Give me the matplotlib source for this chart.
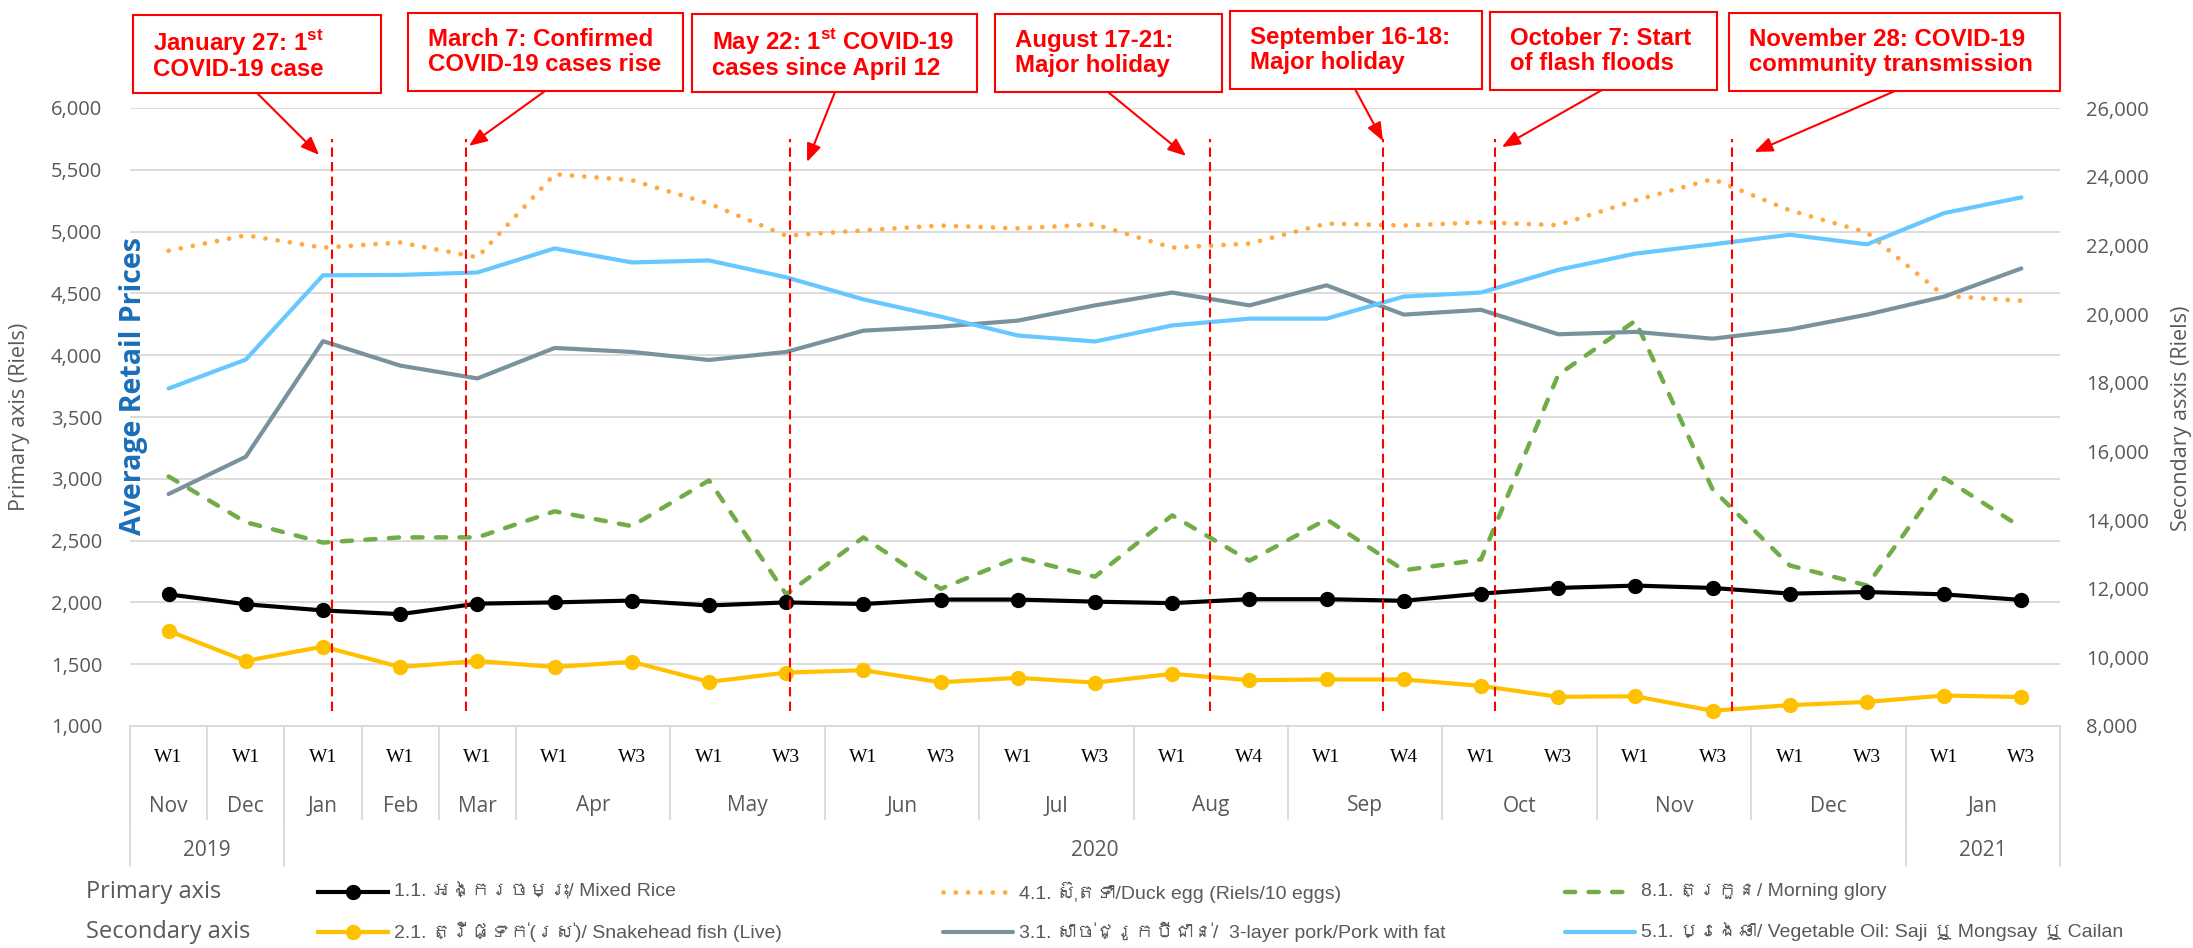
import matplotlib
matplotlib.use('Agg')
import matplotlib.pyplot as plt
import matplotlib.patches as patches
import matplotlib.transforms as mtransforms
from matplotlib import font_manager
from matplotlib.ft2font import FT2Font
from matplotlib.lines import Line2D
from matplotlib.ticker import FuncFormatter

# x axis: one category per weekly observation, grouped by month and year
weeks = ['W1', 'W1', 'W1', 'W1', 'W1', 'W1', 'W3', 'W1', 'W3', 'W1', 'W3', 'W1', 'W3',
         'W1', 'W4', 'W1', 'W4', 'W1', 'W3', 'W1', 'W3', 'W1', 'W3', 'W1', 'W3']
months = ['Nov', 'Dec', 'Jan', 'Feb', 'Mar', 'Apr', 'May', 'Jun', 'Jul', 'Aug', 'Sep', 'Oct', 'Nov', 'Dec', 'Jan']
month_weeks = [1, 1, 1, 1, 1, 2, 2, 2, 2, 2, 2, 2, 2, 2, 2]
years = ['2019', '2020', '2021']
year_weeks = [2, 21, 2]

# primary axis series (Riels)
mixed_rice = [2065, 1985, 1935, 1905, 1990, 2000, 2015, 1975, 2000, 1987, 2023, 2023, 2006,
              1994, 2026, 2026, 2013, 2071, 2117, 2136, 2117, 2071, 2084, 2065, 2020]
duck_egg = [4845, 4970, 4870, 4912, 4792, 5464, 5416, 5227, 4967, 5010, 5049, 5026, 5058,
            4870, 4903, 5065, 5049, 5075, 5052, 5253, 5425, 5172, 4993, 4480, 4441]
morning_glory = [3019, 2649, 2484, 2526, 2526, 2737, 2617, 2987, 2065, 2526, 2110, 2364, 2208,
                 2704, 2337, 2672, 2260, 2347, 3841, 4279, 2915, 2299, 2137, 3006, 2607]

# secondary axis series (Riels)
snakehead = [10770, 9894, 10314, 9718, 9894, 9718, 9870, 9286, 9555, 9625, 9274, 9403, 9263,
             9520, 9333, 9356, 9356, 9169, 8850, 8865, 8444, 8608, 8701, 8888, 8842]
pork = [14756, 15843, 19210, 18497, 18123, 19011, 18895, 18661, 18895, 19515, 19632, 19807, 20251,
        20625, 20251, 20836, 19982, 20122, 19410, 19480, 19281, 19550, 19982, 20508, 21327]
veg_oil = [17830, 18672, 21127, 21138, 21209, 21910, 21502, 21560, 21069, 20426, 19924, 19374, 19199,
           19667, 19865, 19865, 20508, 20625, 21285, 21759, 22028, 22309, 22028, 22940, 23396]

# events (position in category units) and their call-out text
event_pos = [2.12, 3.85, 8.05, 13.49, 15.73, 17.18, 20.25]
event_labels = [
    'January 27: 1$^{\\mathrm{st}}$\nCOVID-19 case',
    'March 7: Confirmed\nCOVID-19 cases rise',
    'May 22: 1$^{\\mathrm{st}}$ COVID-19\ncases since April 12',
    'August 17-21:\nMajor holiday',
    'September 16-18:\nMajor holiday',
    'October 7: Start\nof flash floods',
    'November 28: COVID-19\ncommunity transmission',
]
arrow_tips = [(1.95, 5620), (3.89, 5693), (8.27, 5563), (13.18, 5612), (15.73, 5733), (17.27, 5684), (20.54, 5644)]

legend_labels = [
    ['1.1. អង្ករចម្រុះ/ Mixed Rice', '4.1. ស៊ុតទា/Duck egg (Riels/10 eggs)', '8.1. ត្រកួន/ Morning glory'],
    ['2.1. ត្រីផ្ទក់(រស់)/ Snakehead fish (Live)', '3.1. សាច់ជ្រូកបីជាន់/  3-layer pork/Pork with fat',
     '5.1. ប្រេងឆា/ Vegetable Oil: Saji ឬ Mongsay ឬ Cailan'],
]

# ---- fonts ----
def find_khmer_font():
    for f in font_manager.fontManager.ttflist:
        try:
            if 0x1780 in FT2Font(f.fname).get_charmap():
                return f.name
        except Exception:
            pass
    return None

khmer = find_khmer_font()
legend_family = ['Liberation Sans'] + ([khmer] if khmer else []) + ['DejaVu Sans']

installed = {f.name for f in font_manager.fontManager.ttflist}
if 'Liberation Sans Narrow' in installed:
    callout_font, callout_size = 'Liberation Sans Narrow', 20.5
else:
    callout_font, callout_size = 'Liberation Sans', 17.3

plt.rcParams['font.family'] = ['Open Sans', 'DejaVu Sans']
plt.rcParams['mathtext.fontset'] = 'custom'
plt.rcParams['mathtext.rm'] = callout_font + ':bold'
plt.rcParams['mathtext.bf'] = callout_font + ':bold'

W, H = 2193, 948
def fx(p):
    return p / W
def fy(p):
    return 1 - p / H

grey_text = '#595959'
grid_col = '#D9D9D9'

styles = {
    'rice': dict(color='black', lw=3, marker='o', ms=10),
    'egg': dict(color='#FFA940', lw=3.4, linestyle=(0, (0.01, 2.6)), dash_capstyle='round'),
    'glory': dict(color='#70AD47', lw=3.2, linestyle=(0, (2.3, 3.0)), dash_capstyle='round'),
    'fish': dict(color='#FFC000', lw=3, marker='o', ms=10),
    'pork': dict(color='#7A929E', lw=3, solid_capstyle='round'),
    'oil': dict(color='#66C8FF', lw=3, solid_capstyle='round'),
}

fig = plt.figure(figsize=(W / 100, H / 100), dpi=100)
ax = fig.add_axes([fx(130), fy(726), fx(2060) - fx(130), fy(108) - fy(726)])
ax2 = ax.twinx()

x = list(range(len(weeks)))
ax.plot(x, mixed_rice, **styles['rice'], zorder=3)
ax.plot(x, duck_egg, **styles['egg'])
ax.plot(x, morning_glory, **styles['glory'])
ax2.plot(x, snakehead, **styles['fish'], zorder=3)
ax2.plot(x, pork, **styles['pork'])
ax2.plot(x, veg_oil, **styles['oil'])

# axes styling
ax.set_ylim(1000, 6000)
ax.set_yticks(range(1000, 6001, 500))
ax2.set_ylim(8000, 26000)
ax2.set_yticks(range(8000, 26001, 2000))
ax.set_xticks([])
fmt = FuncFormatter(lambda v, p: f'{v:,.0f}')
ax.yaxis.set_major_formatter(fmt)
ax2.yaxis.set_major_formatter(fmt)
ax.tick_params(axis='y', length=0, pad=20, labelsize=14.5, labelcolor=grey_text)
ax2.tick_params(axis='y', length=0, pad=19, labelsize=14.5, labelcolor=grey_text)
ax.yaxis.grid(True, color=grid_col, lw=1.3)
ax.set_axisbelow(True)
for a in (ax, ax2):
    for s in ('top', 'left', 'right'):
        a.spines[s].set_visible(False)
ax2.spines['bottom'].set_visible(False)
ax.spines['bottom'].set_color(grid_col)
ax.spines['bottom'].set_linewidth(1.3)

# multi-level category axis
trans = mtransforms.blended_transform_factory(ax.transData, fig.transFigure)
for i, w in enumerate(weeks):
    ax.text(i, fy(758), w, transform=trans, ha='center', va='center',
            family='Liberation Serif', fontsize=14, clip_on=False)
start = 0
for m, n in zip(months, month_weeks):
    ax.text(start + n / 2 - 0.5, fy(806), m, transform=trans, ha='center', va='center',
            fontsize=15, color=grey_text, clip_on=False)
    ax.add_line(Line2D([start - 0.5] * 2, [fy(726), fy(819)], transform=trans,
                       color=grid_col, lw=1.3, clip_on=False))
    start += n
start = 0
for yr, n in zip(years, year_weeks):
    ax.text(start + n / 2 - 0.5, fy(850), yr, transform=trans, ha='center', va='center',
            fontsize=15, color=grey_text, clip_on=False)
    ax.add_line(Line2D([start - 0.5] * 2, [fy(726), fy(866)], transform=trans,
                       color=grid_col, lw=1.3, clip_on=False))
    start += n
ax.add_line(Line2D([start - 0.5] * 2, [fy(726), fy(866)], transform=trans,
                   color=grid_col, lw=1.3, clip_on=False))
ax.set_xlim(-0.5, len(weeks) - 0.5)

# axis titles
fig.text(fx(20), fy(417), 'Primary axis (Riels)', rotation=90, ha='center', va='center',
         fontsize=15.5, color=grey_text)
fig.text(fx(2182), fy(418), 'Secondary asxis (Riels)', rotation=90, ha='center', va='center',
         fontsize=15.5, color=grey_text)
fig.text(fx(133), fy(386), 'Average Retail Prices', rotation=90, ha='center', va='center',
         fontsize=20.5, fontweight='bold', color='#1A6EB9')

# event lines, call-out boxes and arrows
for xe in event_pos:
    ax2.axvline(xe, ymin=0.024, ymax=0.95, color='red', lw=1.5, linestyle=(0, (4.5, 2.5)), zorder=6)

boxes = [(133, 15, 381, 93), (408, 13, 683, 91), (692, 14, 977, 92), (995, 14, 1222, 92),
         (1230, 11, 1482, 89), (1490, 12, 1717, 90), (1729, 13, 2060, 91)]
arrow_starts = [(257, 93), (545, 91), (835, 92), (1108, 92), (1355, 89), (1602, 90), (1895, 91)]

for (x0, y0, x1, y1), label in zip(boxes, event_labels):
    fig.add_artist(patches.Rectangle((fx(x0), fy(y1)), fx(x1) - fx(x0), fy(y0) - fy(y1),
                                     transform=fig.transFigure, facecolor='white',
                                     edgecolor='red', lw=1.5))
    fig.text(fx(x0 + 20), fy((y0 + y1) / 2), label, ha='left', va='center', color='red',
             fontsize=callout_size, fontweight='bold', family=callout_font, linespacing=1.1)

for (sx, sy), (tx, ty) in zip(arrow_starts, arrow_tips):
    ax2.annotate('', xy=(tx, ty), xycoords=ax.transData,
                 xytext=(fx(sx), fy(sy)), textcoords='figure fraction',
                 arrowprops=dict(arrowstyle='-|>,head_length=0.55,head_width=0.22',
                                 color='red', lw=1.5, shrinkA=0, shrinkB=0, mutation_scale=20),
                 annotation_clip=False)

# legend
fig.text(fx(86), fy(892), 'Primary axis', ha='left', va='center', fontsize=17, color=grey_text)
fig.text(fx(86), fy(932), 'Secondary axis', ha='left', va='center', fontsize=17, color=grey_text)
legend_keys = [['rice', 'egg', 'glory'], ['fish', 'pork', 'oil']]
col_x = [318, 943, 1565]
for row, yrow in enumerate([892, 932]):
    for col, key in enumerate(legend_keys[row]):
        x0 = col_x[col]
        fig.add_artist(Line2D([fx(x0), fx(x0 + 35), fx(x0 + 70)], [fy(yrow)] * 3,
                              transform=fig.transFigure, markevery=[1], **styles[key]))
        fig.text(fx(x0 + 76), fy(yrow), legend_labels[row][col], ha='left', va='center',
                 fontsize=14, color=grey_text, family=legend_family)

fig.savefig('out.png', dpi=100)
